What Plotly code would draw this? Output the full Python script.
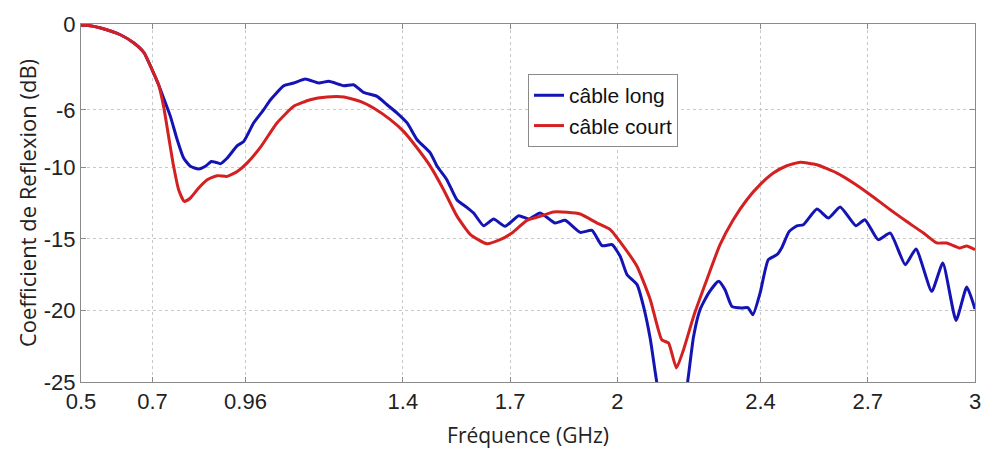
import plotly.graph_objects as go

# Frequency (GHz) / reflection coefficient (dB)
freq_long = [0.50, 0.52, 0.555, 0.61, 0.648, 0.676, 0.699, 0.717, 0.731, 0.75, 0.769, 0.787, 0.806,
             0.829, 0.848, 0.864, 0.876, 0.89, 0.909, 0.937, 0.955, 0.983, 1.011, 1.03, 1.067,
             1.095, 1.127, 1.165, 1.193, 1.235, 1.262, 1.29, 1.328, 1.356, 1.384, 1.412, 1.44,
             1.477, 1.496, 1.523, 1.551, 1.579, 1.598, 1.626, 1.654, 1.686, 1.724, 1.752, 1.784,
             1.826, 1.854, 1.896, 1.929, 1.957, 1.985, 2.008, 2.027, 2.055, 2.073, 2.092, 2.11,
             2.13, 2.155, 2.18, 2.196, 2.213, 2.231, 2.255, 2.283, 2.301, 2.32, 2.348, 2.365,
             2.379, 2.399, 2.422, 2.446, 2.46, 2.48, 2.502, 2.52, 2.558, 2.59, 2.623, 2.667,
             2.692, 2.729, 2.763, 2.805, 2.835, 2.879, 2.91, 2.947, 2.977, 3.0]
db_long = [-0.1, -0.1, -0.28, -0.75, -1.33, -2.0, -3.2, -4.24, -5.17, -6.45, -8.08, -9.36, -9.94,
           -10.13, -9.94, -9.6, -9.65, -9.76, -9.36, -8.5, -8.2, -6.9, -5.98, -5.29, -4.31,
           -4.12, -3.84, -4.12, -4.0, -4.31, -4.24, -4.77, -5.05, -5.64, -6.22, -6.91, -8.08,
           -9.01, -9.94, -10.87, -12.27, -12.8, -13.2, -14.09, -13.62, -14.13, -13.39, -13.62, -13.2,
           -13.9, -13.71, -14.55, -14.41, -15.48, -15.41, -16.23, -17.51, -18.2, -19.72, -22.0, -25.0,
           -27.5, -28.5, -27.5, -25.07, -21.82, -19.95, -18.79, -17.97, -18.56, -19.72, -19.83, -19.8,
           -20.3, -18.79, -16.46, -16.11, -15.6, -14.5, -14.09, -14.02, -12.92, -13.55, -12.78, -14.09,
           -13.67, -15.06, -14.6, -16.81, -15.71, -18.67, -16.69, -20.7, -18.37, -19.9]

freq_short = [0.50, 0.52, 0.555, 0.61, 0.648, 0.676, 0.699, 0.717, 0.731, 0.745, 0.759, 0.773, 0.789,
              0.806, 0.829, 0.853, 0.881, 0.909, 0.937, 0.965, 1.002, 1.048, 1.095, 1.141, 1.188,
              1.235, 1.281, 1.318, 1.365, 1.402, 1.44, 1.477, 1.514, 1.551, 1.589, 1.635, 1.672,
              1.705, 1.747, 1.784, 1.821, 1.859, 1.896, 1.943, 1.98, 2.017, 2.055, 2.092, 2.124,
              2.143, 2.165, 2.185, 2.213, 2.25, 2.287, 2.324, 2.362, 2.399, 2.436, 2.474, 2.511,
              2.558, 2.614, 2.66, 2.707, 2.763, 2.809, 2.856, 2.893, 2.921, 2.958, 2.977, 3.0]
db_short = [-0.1, -0.1, -0.28, -0.75, -1.33, -2.0, -3.2, -4.24, -5.75, -7.85, -9.94, -11.57, -12.39,
            -12.15, -11.45, -10.87, -10.59, -10.64, -10.3, -9.7, -8.6, -6.91, -5.75, -5.29, -5.1,
            -5.1, -5.4, -5.87, -6.68, -7.5, -8.66, -9.94, -11.57, -13.4, -14.71, -15.34, -15.06,
            -14.6, -13.71, -13.43, -13.13, -13.15, -13.27, -13.9, -14.36, -15.53, -16.93, -19.25, -22.05,
            -22.28, -24.02, -22.74, -20.42, -17.86, -15.41, -13.67, -12.27, -11.22, -10.41, -9.9, -9.66,
            -9.83, -10.41, -11.1, -11.92, -12.97, -13.79, -14.6, -15.29, -15.29, -15.64, -15.5, -15.76]

x_ticks = [0.5, 0.7, 0.96, 1.4, 1.7, 2, 2.4, 2.7, 3]
x_ticktext = ["0.5", "0.7", "0.96", "1.4", "1.7", "2", "2.4", "2.7", "3"]
y_ticks = [0, -6, -10, -15, -20, -25]
y_ticktext = ["0", "-6", "-10", "-15", "-20", "-25"]

fig = go.Figure()
fig.add_trace(go.Scatter(x=freq_long, y=db_long, mode="lines", name="câble long",
                         line=dict(color="#1414b4", width=3, shape="spline", smoothing=0.5)))
fig.add_trace(go.Scatter(x=freq_short, y=db_short, mode="lines", name="câble court",
                         line=dict(color="#d42020", width=3, shape="spline", smoothing=0.5)))

axis_common = dict(showline=True, mirror="ticks", linecolor="#8a8a8a", linewidth=1,
                   ticks="inside", ticklen=5, tickcolor="#8a8a8a",
                   showgrid=True, gridcolor="#c8c8c8", griddash="dot", gridwidth=1,
                   zeroline=False, automargin=False,
                   tickfont=dict(family="Liberation Sans, Arial", size=22, color="#222222"))

fig.update_xaxes(range=[0.5, 3], tickvals=x_ticks, ticktext=x_ticktext, ticklabelstandoff=0,
                 title=dict(text="Fréquence (GHz)", font=dict(family="Open Sans", size=21, color="#222222"),
                            standoff=20),
                 **axis_common)
fig.update_yaxes(range=[-25, 0], tickvals=y_ticks, ticktext=y_ticktext,
                 title=dict(text="Coefficient de Reflexion (dB)", font=dict(family="Open Sans", size=22, color="#222222"),
                            standoff=1),
                 **axis_common)

fig.update_layout(
    width=984, height=449,
    margin=dict(l=81, r=9, t=24, b=67),
    paper_bgcolor="white", plot_bgcolor="white",
    showlegend=True,
    legend=dict(x=0.5, y=0.86, xanchor="left", yanchor="top",
                bordercolor="#8a8a8a", borderwidth=1, bgcolor="white",
                font=dict(family="Liberation Sans, Arial", size=21, color="#111111"),
                tracegroupgap=0, itemwidth=30),
)

# remove the default 8px page margin so the figure fills the window exactly
fig.write_html("out.html", config={"displayModeBar": False},
               post_script="document.body.style.margin='0';")
